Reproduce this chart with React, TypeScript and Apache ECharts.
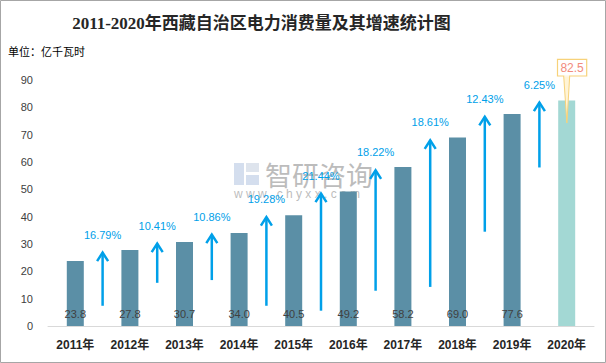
import React, { useEffect, useRef } from "react";
import * as echarts from "echarts";

const years = ["2011年", "2012年", "2013年", "2014年", "2015年", "2016年", "2017年", "2018年", "2019年", "2020年"];
const consumption = [23.8, 27.8, 30.7, 34.0, 40.5, 49.2, 58.2, 69.0, 77.6, 82.5];
const growthRates = [16.79, 10.41, 10.86, 19.28, 21.44, 18.22, 18.61, 12.43, 6.25];
const arrowBottoms = [7.4, 15.8, 16.8, 7.4, 5.6, 12.9, 14.3, 34.5, 58.0];
const arrowTops = [27.2, 30.5, 33.8, 40.2, 48.8, 57.3, 68.3, 76.9, 82.1];

const BLUE = "#00a0e9";
const FONT = "'Liberation Sans', 'Noto Sans CJK SC', sans-serif";

export default function App() {
  const ref = useRef<HTMLDivElement>(null);
  useEffect(() => {
    if (!ref.current) return;
    const chart = echarts.init(ref.current, null, { renderer: "svg" });
    const last = consumption.length - 1;
    chart.setOption({
      animation: false,
      backgroundColor: "#ffffff",
      grid: { left: 48, right: 12, top: 80, bottom: 37 },
      xAxis: {
        type: "category",
        data: years,
        axisLine: { lineStyle: { color: "#d9d9d9", width: 1 } },
        axisTick: { show: false },
        axisLabel: { color: "#262626", fontSize: 12, fontWeight: "bold", fontFamily: FONT, margin: 13 },
      },
      yAxis: {
        type: "value",
        min: 0,
        max: 90,
        interval: 10,
        splitLine: { show: false },
        axisLine: { show: false },
        axisTick: { show: false },
        axisLabel: { color: "#404040", fontSize: 11, fontFamily: FONT, margin: 15 },
      },
      graphic: [
        {
          type: "rect",
          shape: { x: 0.5, y: 0.5, width: 605, height: 362 },
          style: { fill: "none", stroke: "#a6a6a6", lineWidth: 1 },
          silent: true,
        },
        {
          type: "text",
          x: 261.5,
          y: 23.5,
          style: {
            text: "2011-2020年西藏自治区电力消费量及其增速统计图",
            fill: "#262626",
            font: "bold 17px 'Liberation Serif', 'Noto Sans CJK SC', serif",
            align: "center",
            verticalAlign: "middle",
          },
        },
        {
          type: "text",
          x: 8,
          y: 51,
          style: {
            text: "单位：亿千瓦时",
            fill: "#000000",
            font: "11px 'Noto Sans CJK SC', sans-serif",
            align: "left",
            verticalAlign: "middle",
          },
        },
        {
          type: "group",
          z: 0,
          silent: true,
          children: [
            { type: "rect", shape: { x: 234, y: 163, width: 10, height: 22 }, style: { fill: "#c9d6ea", opacity: 0.8 } },
            { type: "rect", shape: { x: 246, y: 163, width: 13, height: 9 }, style: { fill: "#d6dde8", opacity: 0.8 } },
            { type: "rect", shape: { x: 246, y: 175, width: 13, height: 10 }, style: { fill: "#c9d6ea", opacity: 0.8 } },
            {
              type: "text",
              x: 265,
              y: 174,
              style: {
                text: "智研咨询",
                fill: "#a6a6a6",
                opacity: 0.75,
                font: "27px 'Noto Sans CJK SC', sans-serif",
                align: "left",
                verticalAlign: "middle",
              },
            },
            {
              type: "text",
              x: 234,
              y: 194,
              style: {
                text: "w w w . c h y x x . c o m",
                fill: "#a6a6a6",
                opacity: 0.75,
                font: "12px 'Liberation Sans', sans-serif",
                align: "left",
                verticalAlign: "middle",
              },
            },
          ],
        },
      ],
      series: [
        {
          type: "bar",
          barWidth: 17,
          z: 2,
          data: consumption.map((v, i) =>
            i === last
              ? { value: v, itemStyle: { color: "#a3d8d4" }, label: { show: false } }
              : v
          ),
          itemStyle: { color: "#5b8fa6" },
          label: {
            show: true,
            position: "insideBottom",
            distance: 7,
            color: "#404040",
            fontSize: 11,
            fontFamily: FONT,
            formatter: (p: any) => Number(p.value).toFixed(1),
          },
        },
        {
          type: "custom",
          z: 3,
          data: growthRates.map((_, i) => [i, arrowBottoms[i], arrowTops[i]]),
          renderItem: (params: any, api: any) => {
            const i = api.value(0);
            const pb = api.coord([i, api.value(1)]);
            const pt = api.coord([i, api.value(2)]);
            const pn = api.coord([i + 1, api.value(2)]);
            const x = (pt[0] + pn[0]) / 2;
            const yb = pb[1];
            const yt = pt[1];
            const label = growthRates[params.dataIndex].toFixed(2) + "%";
            return {
              type: "group",
              children: [
                {
                  type: "line",
                  shape: { x1: x, y1: yb, x2: x, y2: yt + 1 },
                  style: { stroke: BLUE, lineWidth: 2.5 },
                },
                {
                  type: "polyline",
                  shape: { points: [[x - 5.5, yt + 9.5], [x, yt + 1], [x + 5.5, yt + 9.5]] },
                  style: { stroke: BLUE, lineWidth: 2.5, fill: null },
                },
                {
                  type: "text",
                  x: x,
                  y: yt - 17,
                  style: {
                    text: label,
                    fill: BLUE,
                    font: "11px " + FONT,
                    align: "center",
                    verticalAlign: "middle",
                  },
                },
              ],
            };
          },
        },
        {
          type: "custom",
          z: 4,
          data: [[last, consumption[last]]],
          renderItem: (params: any, api: any) => {
            const p = api.coord([api.value(0), api.value(1)]);
            const x = p[0];
            const yTop = p[1];
            const boxBottom = yTop - 24.5;
            const boxTop = boxBottom - 16.7;
            const boxLeft = x - 9.2;
            const boxRight = x + 20;
            return {
              type: "group",
              children: [
                {
                  type: "polygon",
                  shape: { points: [[x - 3, boxBottom], [x + 3, boxBottom], [x + 0.2, yTop + 22.5]] },
                  style: { fill: "#fff4d6", stroke: "#f7d27a", lineWidth: 1 },
                },
                {
                  type: "rect",
                  shape: { x: boxLeft, y: boxTop, width: boxRight - boxLeft, height: boxBottom - boxTop },
                  style: { fill: "#ffffff", stroke: "#f7d27a", lineWidth: 1.2 },
                },
                {
                  type: "line",
                  shape: { x1: x - 2.4, y1: boxBottom, x2: x + 2.4, y2: boxBottom },
                  style: { stroke: "#ffffff", lineWidth: 1.5 },
                },
                {
                  type: "text",
                  x: (boxLeft + boxRight) / 2,
                  y: (boxTop + boxBottom) / 2,
                  style: {
                    text: Number(api.value(1)).toFixed(1),
                    fill: "#f28b7d",
                    font: "12px " + FONT,
                    align: "center",
                    verticalAlign: "middle",
                  },
                },
              ],
            };
          },
        },
      ],
    });
    return () => chart.dispose();
  }, []);
  return (
    <div
      ref={ref}
      style={{ position: "absolute", left: 0, top: 0, width: 606, height: 363 }}
    />
  );
}
